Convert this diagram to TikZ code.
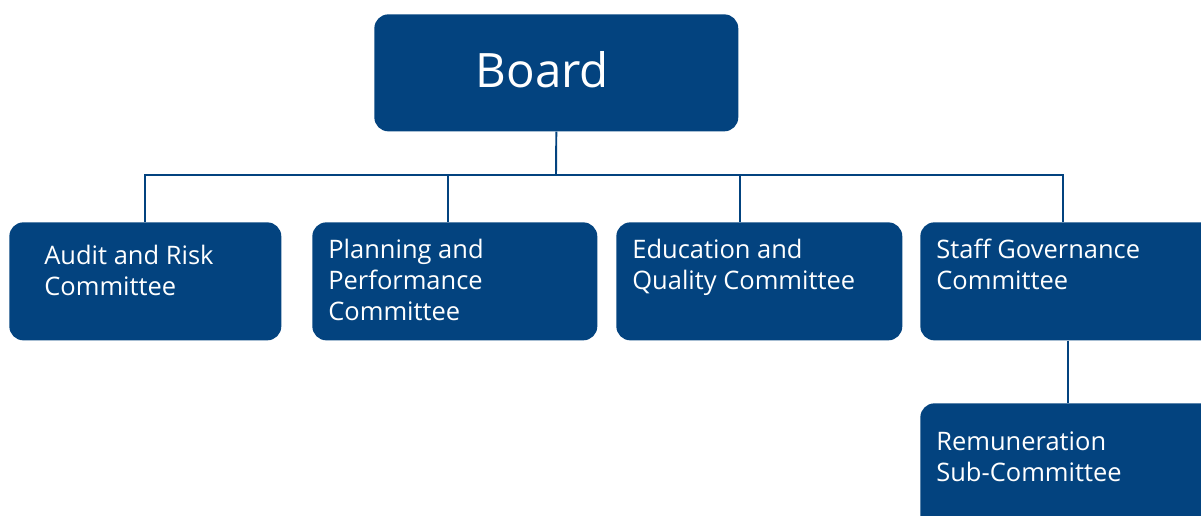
\documentclass[tikz,border=0pt]{standalone}
\usepackage{fontspec}
\setmainfont{Open Sans}
\usepackage{tikz}
\usetikzlibrary{positioning,calc}

\definecolor{boardblue}{RGB}{3,67,127}

\tikzset{
    box/.style={fill=boardblue, rounded corners=0.28cm, inner sep=0pt, anchor=north west},
    boxtext/.style={text=white, align=left, inner sep=0pt, anchor=base west, font=\fontsize{14.5}{17.6}\selectfont},
    link/.style={draw=boardblue, line width=1.1pt}
}

\begin{document}
\begin{tikzpicture}[x=0.02cm, y=0.02cm]
        \clip (0,0) rectangle (1201,-515);

        % Board
        \node[box, minimum width=7.28cm, minimum height=2.34cm] (board) at (374,-14) {};
        \node[text=white, inner sep=0pt, font=\fontsize{27}{32}\selectfont] (boardtext) at ([xshift=-0.28cm, yshift=0.06cm]board.center) {Board};

        % Committees
        \node[box, minimum width=5.44cm, minimum height=2.36cm] (audit) at (9,-222) {};
        \node[box, minimum width=5.7cm, minimum height=2.36cm] (plan) at (312,-222) {};
        \node[box, minimum width=5.72cm, minimum height=2.36cm] (educ) at (616,-222) {};
        \node[box, minimum width=6cm, minimum height=2.36cm] (staff) at (920,-222) {};
        \node[box, minimum width=6cm, minimum height=2.54cm] (remun) at (920,-403) {};

        % text (anchored on the last line)
        \node[boxtext] (audittext) at (44,-295) {Audit and Risk\\Committee};
        \node[boxtext] (plantext) at (328,-320) {Planning and\\Performance\\Committee};
        \node[boxtext] (eductext) at (632,-289) {Education and\\Quality Committee};
        \node[boxtext] (stafftext) at (936,-289) {Staff Governance\\Committee};
        \node[boxtext] (remuntext) at (936,-481) {Remuneration\\Sub-Committee};

        % Connectors
        \coordinate (bus) at (556,-175);
        \draw[link] (board.south) -- (bus);
        \draw[link] (audit.north) |- (bus);
        \draw[link] ([xshift=-0.13cm]plan.north) |- (bus);
        \draw[link] ([xshift=-0.38cm]educ.north) |- (bus);
        \draw[link] ([xshift=-0.14cm]staff.north) |- (bus);
        \draw[link] ([xshift=-0.04cm]staff.south) -- ([xshift=-0.04cm]remun.north);
    \end{tikzpicture}
\end{document}
